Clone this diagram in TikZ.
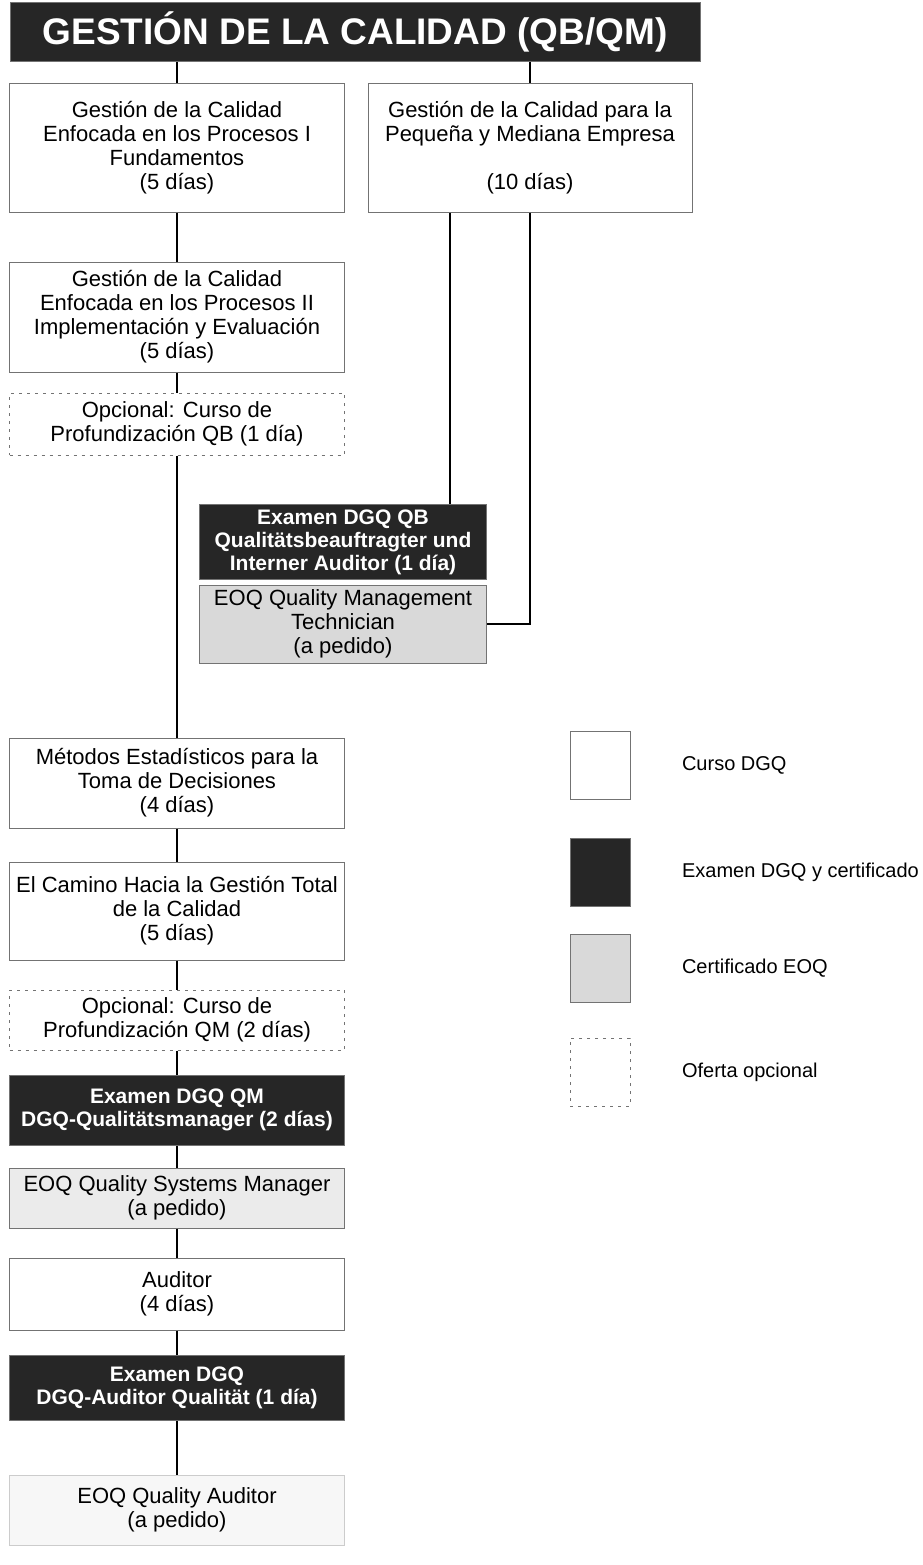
\documentclass[tikz,border=0pt]{standalone}
\usepackage{fontspec}
\setmainfont{Liberation Sans}
\usetikzlibrary{positioning}
\begin{document}
\begin{tikzpicture}[x=1pt, y=-1pt,
		kurs/.style={draw=black!55, line width=1pt, minimum width=335pt, inner sep=0pt, align=center, font=\fontsize{22}{24}\selectfont},
		optkurs/.style={kurs, dash pattern=on 3pt off 5pt},
		examen/.style={kurs, fill=black!85, text=white, font=\fontsize{21}{23}\selectfont\bfseries},
		eoq/.style={kurs, fill=#1},
		eoq/.default=black!15,
		legende/.style={minimum width=60pt, minimum height=68pt, inner sep=0pt},
		linie/.style={line width=2.8pt}]
			\useasboundingbox (0,0) rectangle (922,1565);
			
			\node[examen, minimum width=690pt, minimum height=59pt, font=\fontsize{37}{40}\selectfont\bfseries] (titel) at (355, 32){GESTIÓN DE LA CALIDAD (QB/QM)};
			
			\node[kurs, minimum height=128pt] (grund1) at (177, 148){Gestión de la Calidad\\Enfocada en los Procesos I\\Fundamentos\\(5 días)};
			\node[kurs, minimum width=324pt, minimum height=128pt] (kmu) at (530, 148){Gestión de la Calidad para la\\Pequeña y Mediana Empresa\\~\\(10 días)};
			\node[kurs, minimum height=110pt] (grund2) at (177, 317){Gestión de la Calidad\\Enfocada en los Procesos II\\Implementación y Evaluación\\(5 días)};
			\node[optkurs, minimum height=62pt] (optqb) at (177, 424){Opcional: Curso de\\Profundización QB (1 día)};
			
			\node[examen, minimum width=287pt, minimum height=75pt] (exqb) at (343, 542){Examen DGQ QB\\Qualitätsbeauftragter und\\Interner Auditor (1 día)};
			\node[eoq, minimum width=287pt, minimum height=78pt] (eoqqmt) at (343, 624){EOQ Quality Management\\Technician\\(a pedido)};
			
			\node[kurs, minimum height=90pt] (stat) at (177, 783){Métodos Estadísticos para la\\Toma de Decisiones\\(4 días)};
			\node[kurs, minimum height=98pt] (tqm) at (177, 911){El Camino Hacia la Gestión Total\\de la Calidad\\(5 días)};
			\node[optkurs, minimum height=60pt] (optqm) at (177, 1020){Opcional: Curso de\\Profundización QM (2 días)};
			\node[examen, minimum height=70pt] (exqm) at (177, 1110){Examen DGQ QM\\DGQ-Qualitätsmanager (2 días)};
			\node[eoq=black!8, minimum height=60pt] (eoqqsm) at (177, 1198){EOQ Quality Systems Manager\\(a pedido)};
			\node[kurs, minimum height=72pt] (audit) at (177, 1294){Auditor\\(4 días)};
			\node[examen, minimum height=65pt] (exaud) at (177, 1388){Examen DGQ\\DGQ-Auditor Qualität (1 día)};
			\node[eoq=black!3, draw=black!20, minimum height=70pt] (eoqaud) at (177, 1510){EOQ Quality Auditor\\(a pedido)};
			
			% Legende
			\node[kurs, legende] (leg1) at (600, 765){};
			\node[examen, legende] (leg2) at (600, 872){};
			\node[eoq, legende] (leg3) at (600, 968){};
			\node[optkurs, legende] (leg4) at (600, 1072){};
			\node[right=48pt of leg1, font=\fontsize{20}{22}\selectfont] (txt1){Curso DGQ};
			\node[right=48pt of leg2, font=\fontsize{20}{22}\selectfont] (txt2){Examen DGQ y certificado};
			\node[right=48pt of leg3, font=\fontsize{20}{22}\selectfont] (txt3){Certificado EOQ};
			\node[right=48pt of leg4, font=\fontsize{20}{22}\selectfont] (txt4){Oferta opcional};
			
			\coordinate (abzweig) at (450, 0);
			
			\draw[linie] (grund1.north |- titel.south) -- (grund1.north);
			\draw[linie] (kmu.north |- titel.south) -- (kmu.north);
			\draw[linie] (grund1) -- (grund2) -- (optqb) -- (stat) -- (tqm) -- (optqm) -- (exqm) -- (eoqqsm) -- (audit) -- (exaud) -- (eoqaud);
			\draw[linie] (kmu.south -| abzweig) -- (exqb.north -| abzweig);
			\draw[linie] (kmu.south) -- (kmu.south |- eoqqmt.east) -- (eoqqmt.east);
		\end{tikzpicture}
\end{document}
